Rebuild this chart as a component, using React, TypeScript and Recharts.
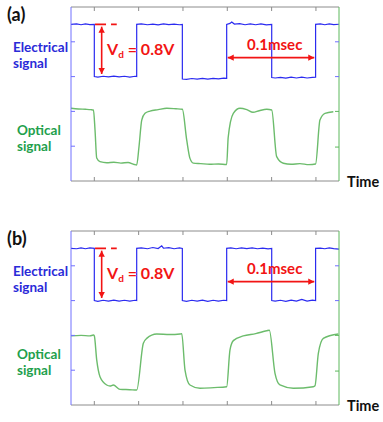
import React from "react";
import { LineChart, Line, XAxis, YAxis, ReferenceLine } from "recharts";

// time in msec, signal in arbitrary display units (0..10)
const timeTicks = [0, 0.05, 0.1, 0.15, 0.2, 0.25];
const leftTicks = [2, 4, 6, 8];
const rightTicks = [1.95, 2.75, 4, 5.4, 6, 8];
const rightBlueTicks = [6, 8];

const electricalA: [number, number][] = [
  [-0.0263, 9.0], [-0.02, 9.03], [-0.015, 8.98], [-0.01, 9.03], [-0.005, 8.99], [0, 9.0], [0, 6.0],
  [0.004, 5.97], [0.01, 6.02], [0.016, 5.98], [0.022, 6.03], [0.028, 5.98], [0.034, 6.02], [0.04, 5.97], [0.046, 6.02], [0.0478, 6.0], [0.0478, 9.0],
  [0.053, 9.03], [0.06, 8.98], [0.066, 9.02], [0.072, 8.97], [0.078, 9.03], [0.084, 8.99], [0.09, 9.02], [0.096, 8.98], [0.0993, 9.0], [0.0993, 5.86],
  [0.104, 5.84], [0.11, 5.89], [0.116, 5.85], [0.122, 5.9], [0.128, 5.85], [0.134, 5.9], [0.14, 5.87], [0.146, 5.91], [0.1493, 5.9], [0.1493, 9.0],
  [0.153, 9.06], [0.155, 9.14], [0.158, 9.02], [0.164, 9.04], [0.17, 8.98], [0.176, 9.03], [0.182, 8.98], [0.188, 9.03], [0.194, 8.97], [0.2001, 9.0], [0.2001, 5.95],
  [0.204, 5.92], [0.21, 5.96], [0.216, 5.91], [0.222, 5.97], [0.228, 5.92], [0.234, 5.97], [0.24, 5.92], [0.246, 5.96], [0.2496, 5.97], [0.2496, 9.0],
  [0.255, 9.03], [0.26, 8.98], [0.265, 9.03], [0.27, 8.99], [0.276, 9.01],
];

const opticalA: [number, number][] = [
  [-0.0263, 4.18], [-0.018, 4.14], [-0.01, 4.12], [-0.004, 4.1], [-0.001, 4.08], [0.0008, 2.93], [0.0027, 1.32], [0.0064, 1.11],
  [0.014, 1.05], [0.022, 1.08], [0.03, 1.03], [0.038, 1.06], [0.045, 0.95], [0.0478, 0.92], [0.0504, 1.97], [0.0535, 3.5],
  [0.0572, 3.89], [0.0628, 4.02], [0.072, 4.1], [0.0817, 4.18], [0.092, 4.15], [0.0993, 4.12], [0.1042, 2.36], [0.1079, 1.3],
  [0.1117, 1.03], [0.12, 1.0], [0.13, 0.96], [0.14, 0.98], [0.1493, 0.95], [0.151, 2.5], [0.1568, 3.89], [0.1643, 4.18],
  [0.172, 4.1], [0.179, 3.95], [0.186, 4.04], [0.1945, 4.12], [0.2001, 4.08], [0.2057, 1.4], [0.2132, 1.02], [0.222, 0.96],
  [0.232, 1.0], [0.242, 0.94], [0.2496, 0.98], [0.2545, 3.5], [0.2602, 3.89], [0.2696, 3.98],
];

const electricalB: [number, number][] = [
  [-0.0263, 9.0], [-0.02, 8.98], [-0.015, 9.03], [-0.01, 8.98], [-0.005, 9.03], [0, 9.0], [0, 6.0],
  [0.004, 5.96], [0.01, 6.02], [0.016, 5.97], [0.022, 6.03], [0.028, 5.97], [0.034, 6.02], [0.04, 5.97], [0.046, 6.02], [0.0478, 6.0], [0.0478, 9.0],
  [0.053, 9.03], [0.06, 8.98], [0.066, 9.05], [0.072, 8.99], [0.076, 9.15], [0.078, 9.01], [0.084, 9.04], [0.09, 8.98], [0.096, 9.03], [0.0993, 9.0], [0.0993, 6.0],
  [0.104, 5.96], [0.11, 6.02], [0.116, 5.97], [0.122, 6.03], [0.128, 5.96], [0.134, 6.02], [0.14, 5.97], [0.146, 6.02], [0.1493, 6.0], [0.1493, 9.0],
  [0.154, 9.03], [0.16, 8.98], [0.166, 9.03], [0.172, 8.99], [0.178, 9.03], [0.184, 8.98], [0.19, 9.02], [0.196, 8.97], [0.2001, 9.0], [0.2001, 6.0],
  [0.204, 5.97], [0.21, 6.02], [0.216, 5.96], [0.222, 6.03], [0.228, 5.97], [0.234, 6.07], [0.24, 5.97], [0.246, 6.03], [0.2496, 6.0], [0.2496, 9.0],
  [0.255, 9.02], [0.26, 8.98], [0.265, 9.03], [0.27, 8.99], [0.276, 8.96],
];

const opticalB: [number, number][] = [
  [-0.0263, 3.97], [-0.015, 4.0], [-0.005, 3.97], [-0.001, 4.02], [0.0, 3.97], [0.0027, 2.59], [0.0064, 1.63], [0.014, 1.15],
  [0.0177, 1.09], [0.0214, 1.15], [0.029, 0.9], [0.04, 0.88], [0.0478, 0.86], [0.0553, 3.55], [0.0591, 3.83], [0.0704, 4.08],
  [0.085, 4.05], [0.0967, 4.08], [0.0986, 4.1], [0.1023, 2.01], [0.1079, 1.15], [0.1192, 0.96], [0.135, 1.0], [0.1493, 1.05],
  [0.153, 3.16], [0.1568, 3.7], [0.168, 3.97], [0.182, 4.1], [0.1945, 4.27], [0.1974, 4.3], [0.2038, 1.82], [0.2094, 1.15],
  [0.2245, 0.96], [0.247, 1.05], [0.2489, 1.1], [0.2527, 2.97], [0.2583, 3.83], [0.2752, 4.08],
];

// annotation anchors (same in both panels)
const vdDash = { t1: 0.0008, t2: 0.0253, v: 9.0 };
const vdArrow = { t: 0.0083, v1: 8.87, v2: 6.15 };
const periodArrow = { t1: 0.1505, t2: 0.2481, v: 7.09 };

const BLUE = "#2b2bf0";
const BLUE_AXIS = "#7070ff";
const GREEN = "#6cbc6c";
const GREEN_AXIS = "#5cb85c";
const RED = "#f21414";
const GRAY = "#8c8c8c";

const InTick = (props: any) => {
  const { x, y, dx, dy, color } = props;
  return <line x1={x} y1={y} x2={x + dx} y2={y + dy} stroke={color} strokeWidth={1} />;
};

const RightTick = (props: any) => {
  const { x, y, payload } = props;
  const c = rightBlueTicks.includes(payload.value) ? BLUE_AXIS : GREEN_AXIS;
  return <line x1={x} y1={y} x2={x - 4} y2={y} stroke={c} strokeWidth={1} />;
};

const DoubleArrow = (props: any) => {
  const { x1, y1, x2, y2 } = props;
  const ang = Math.atan2(y2 - y1, x2 - x1);
  const head = (px: number, py: number, a: number) => {
    const l = 6, w = 3.2;
    const bx = px - l * Math.cos(a), by = py - l * Math.sin(a);
    const nx = -Math.sin(a) * w, ny = Math.cos(a) * w;
    return `${px},${py} ${bx + nx},${by + ny} ${bx - nx},${by - ny}`;
  };
  return (
    <g>
      <line x1={x1} y1={y1} x2={x2} y2={y2} stroke={RED} strokeWidth={1.6} />
      <polygon points={head(x2, y2, ang)} fill={RED} />
      <polygon points={head(x1, y1, ang + Math.PI)} fill={RED} />
    </g>
  );
};

function Panel({ elec, opt, top, height }: { elec: [number, number][]; opt: [number, number][]; top: number; height: number }) {
  const elecData = elec.map(([t, v]) => ({ t, v }));
  const optData = opt.map(([t, v]) => ({ t, v }));
  return (
    <div style={{ position: "absolute", left: 0, top, width: 383, height }}>
      <LineChart width={383} height={height} margin={{ top: 6, right: 43, bottom: height - 182, left: 70 }}>
        <XAxis
          xAxisId="b" dataKey="t" type="number" domain={[-0.0263, 0.276]} ticks={timeTicks}
          height={1} tickSize={0} tickMargin={0} stroke={GRAY} allowDataOverflow
          tick={<InTick dx={0} dy={-4} color={GRAY} />}
        />
        <XAxis
          xAxisId="top" orientation="top" dataKey="t" type="number" domain={[-0.0263, 0.276]} ticks={timeTicks}
          height={1} tickSize={0} tickMargin={0} stroke={GRAY} allowDataOverflow
          tick={<InTick dx={0} dy={4} color={GRAY} />}
        />
        <YAxis
          yAxisId="l" type="number" domain={[0, 10]} ticks={leftTicks} width={1} tickSize={0} tickMargin={0}
          stroke={BLUE_AXIS} allowDataOverflow tick={<InTick dx={4} dy={0} color={BLUE_AXIS} />}
        />
        <YAxis
          yAxisId="r" orientation="right" type="number" domain={[0, 10]} ticks={rightTicks} width={1} tickSize={0}
          tickMargin={0} stroke={GREEN_AXIS} allowDataOverflow tick={<RightTick />}
        />
        <Line xAxisId="b" yAxisId="l" data={elecData} dataKey="v" type="linear" stroke={BLUE} strokeWidth={1.2} dot={false} isAnimationActive={false} />
        <Line xAxisId="b" yAxisId="l" data={optData} dataKey="v" type="monotone" stroke={GREEN} strokeWidth={1.4} dot={false} isAnimationActive={false} />
        <ReferenceLine
          xAxisId="b" yAxisId="l"
          segment={[{ x: vdDash.t1, y: vdDash.v }, { x: vdDash.t2, y: vdDash.v }]}
          stroke={RED} strokeWidth={1.6} strokeDasharray="11 5 6 100"
        />
        <ReferenceLine
          xAxisId="b" yAxisId="l"
          segment={[{ x: vdArrow.t, y: vdArrow.v1 }, { x: vdArrow.t, y: vdArrow.v2 }]}
          shape={<DoubleArrow />}
        />
        <ReferenceLine
          xAxisId="b" yAxisId="l"
          segment={[{ x: periodArrow.t1, y: periodArrow.v }, { x: periodArrow.t2, y: periodArrow.v }]}
          shape={<DoubleArrow />}
        />
      </LineChart>
    </div>
  );
}

function Labels({ top, tag }: { top: number; tag: string }) {
  const font = "Lato, 'Open Sans', sans-serif";
  const base: React.CSSProperties = { position: "absolute", fontFamily: font, fontWeight: 700, whiteSpace: "nowrap", lineHeight: 1 };
  return (
    <>
      <div style={{ ...base, left: 7, top: top + 5, fontSize: 18, color: "#111" }}>{tag}</div>
      <div style={{ ...base, left: 13, top: top + 39, fontSize: 13.5, color: "#2a2ad8", lineHeight: "16px" }}>
        Electrical<br />signal
      </div>
      <div style={{ ...base, left: 17, top: top + 122, fontSize: 13.5, color: "#22a04c", lineHeight: "16px" }}>
        Optical<br />signal
      </div>
      <div style={{ ...base, left: 107, top: top + 41, fontSize: 16, color: RED }}>
        V<sub style={{ fontSize: 10, verticalAlign: "-3px" }}>d</sub> = 0.8V
      </div>
      <div style={{ ...base, left: 247, top: top + 37, fontSize: 15, color: RED }}>0.1msec</div>
      <div style={{ ...base, left: 347, top: top + 175, fontSize: 14.5, color: "#111" }}>Time</div>
    </>
  );
}

export default function App() {
  return (
    <div style={{ position: "absolute", left: 0, top: 0, width: 383, height: 422, background: "#fff", overflow: "hidden" }}>
      <Panel elec={electricalA} opt={opticalA} top={0} height={200} />
      <Panel elec={electricalB} opt={opticalB} top={224} height={198} />
      <Labels top={0} tag="(a)" />
      <Labels top={224} tag="(b)" />
    </div>
  );
}
